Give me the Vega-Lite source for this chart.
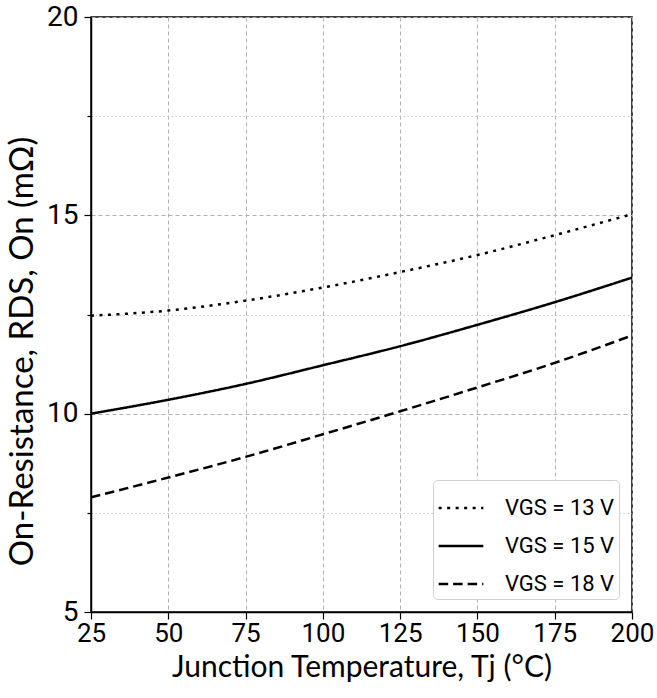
{
  "$schema": "https://vega.github.io/schema/vega-lite/v6.json",
  "width": 541,
  "height": 595,
  "autosize": "none",
  "padding": {"left": 91, "top": 17, "right": 25, "bottom": 86},
  "background": "white",
  "config": {
    "view": {"stroke": "black", "strokeWidth": 1.5},
    "font": "Lato"
  },
  "data": {
    "values": [
      {"Tj": 25, "R": 12.47, "s": "VGS = 13 V"},
      {"Tj": 50, "R": 12.6, "s": "VGS = 13 V"},
      {"Tj": 75, "R": 12.85, "s": "VGS = 13 V"},
      {"Tj": 100, "R": 13.18, "s": "VGS = 13 V"},
      {"Tj": 125, "R": 13.57, "s": "VGS = 13 V"},
      {"Tj": 150, "R": 14.0, "s": "VGS = 13 V"},
      {"Tj": 175, "R": 14.5, "s": "VGS = 13 V"},
      {"Tj": 200, "R": 15.03, "s": "VGS = 13 V"},
      {"Tj": 25, "R": 10.0, "s": "VGS = 15 V"},
      {"Tj": 50, "R": 10.35, "s": "VGS = 15 V"},
      {"Tj": 75, "R": 10.75, "s": "VGS = 15 V"},
      {"Tj": 100, "R": 11.22, "s": "VGS = 15 V"},
      {"Tj": 125, "R": 11.7, "s": "VGS = 15 V"},
      {"Tj": 150, "R": 12.24, "s": "VGS = 15 V"},
      {"Tj": 175, "R": 12.81, "s": "VGS = 15 V"},
      {"Tj": 200, "R": 13.43, "s": "VGS = 15 V"},
      {"Tj": 25, "R": 7.89, "s": "VGS = 18 V"},
      {"Tj": 50, "R": 8.39, "s": "VGS = 18 V"},
      {"Tj": 75, "R": 8.91, "s": "VGS = 18 V"},
      {"Tj": 100, "R": 9.48, "s": "VGS = 18 V"},
      {"Tj": 125, "R": 10.06, "s": "VGS = 18 V"},
      {"Tj": 150, "R": 10.66, "s": "VGS = 18 V"},
      {"Tj": 175, "R": 11.28, "s": "VGS = 18 V"},
      {"Tj": 200, "R": 11.97, "s": "VGS = 18 V"}
    ]
  },
  "mark": {"type": "line", "color": "black", "strokeWidth": 2.5, "interpolate": "monotone", "clip": true},
  "encoding": {
    "x": {
      "field": "Tj", "type": "quantitative",
      "scale": {"domain": [25, 200], "nice": false, "zero": false},
      "axis": {
        "values": [25, 50, 75, 100, 125, 150, 175, 200],
        "title": "Junction Temperature, Tj (°C)",
        "titleFont": "Lato", "titleFontSize": 30, "titleFontWeight": "normal", "titleColor": "black", "titlePadding": 6,
        "labelFont": "Roboto", "labelFontSize": 26, "labelColor": "black", "labelPadding": 1,
        "labelFlush": false,
        "domainColor": "black", "domainWidth": 1.5,
        "tickColor": "black", "tickSize": 7, "tickWidth": 1.2,
        "grid": true, "gridColor": "#b0b0b0", "gridDash": [4, 3], "gridWidth": 1
      }
    },
    "y": {
      "field": "R", "type": "quantitative",
      "scale": {"domain": [5, 20], "nice": false, "zero": false},
      "axis": {
        "values": [5, 7.5, 10, 12.5, 15, 17.5, 20],
        "labelExpr": "datum.value % 5 === 0 ? datum.label : ''",
        "title": "On-Resistance, RDS, On (mΩ)",
        "titleFont": "Lato", "titleFontSize": 33, "titleFontWeight": "normal", "titleColor": "black", "titlePadding": 7,
        "titleY": 334,
        "labelFont": "Roboto", "labelFontSize": 28, "labelColor": "black", "labelPadding": 6,
        "labelFlush": false,
        "domainColor": "black", "domainWidth": 1.5,
        "tickColor": "black", "tickWidth": 1.2,
        "tickSize": {"condition": {"test": "datum.value % 5 === 0", "value": 7}, "value": 4},
        "grid": true,
        "gridColor": {"condition": {"test": "datum.value % 5 === 0", "value": "#b0b0b0"}, "value": "#c8c8c8"},
        "gridDash": {"condition": {"test": "datum.value % 5 === 0", "value": [4, 3]}, "value": [1.5, 2.5]},
        "gridWidth": 1
      }
    },
    "strokeDash": {
      "field": "s", "type": "nominal",
      "scale": {"domain": ["VGS = 13 V", "VGS = 15 V", "VGS = 18 V"], "range": [[3, 5.5], [1, 0], [9.5, 5]]},
      "legend": {
        "title": null,
        "orient": "bottom-right",
        "offset": 13,
        "padding": 4,
        "fillColor": "white",
        "strokeColor": "#d0d0d0",
        "cornerRadius": 4,
        "symbolType": "stroke",
        "symbolSize": 2000,
        "symbolStrokeWidth": 2.5,
        "symbolStrokeColor": "black",
        "labelFont": "Roboto",
        "labelFontSize": 22,
        "labelColor": "black",
        "labelOffset": 20,
        "rowPadding": 3,
        "labelLimit": 300
      }
    }
  }
}
